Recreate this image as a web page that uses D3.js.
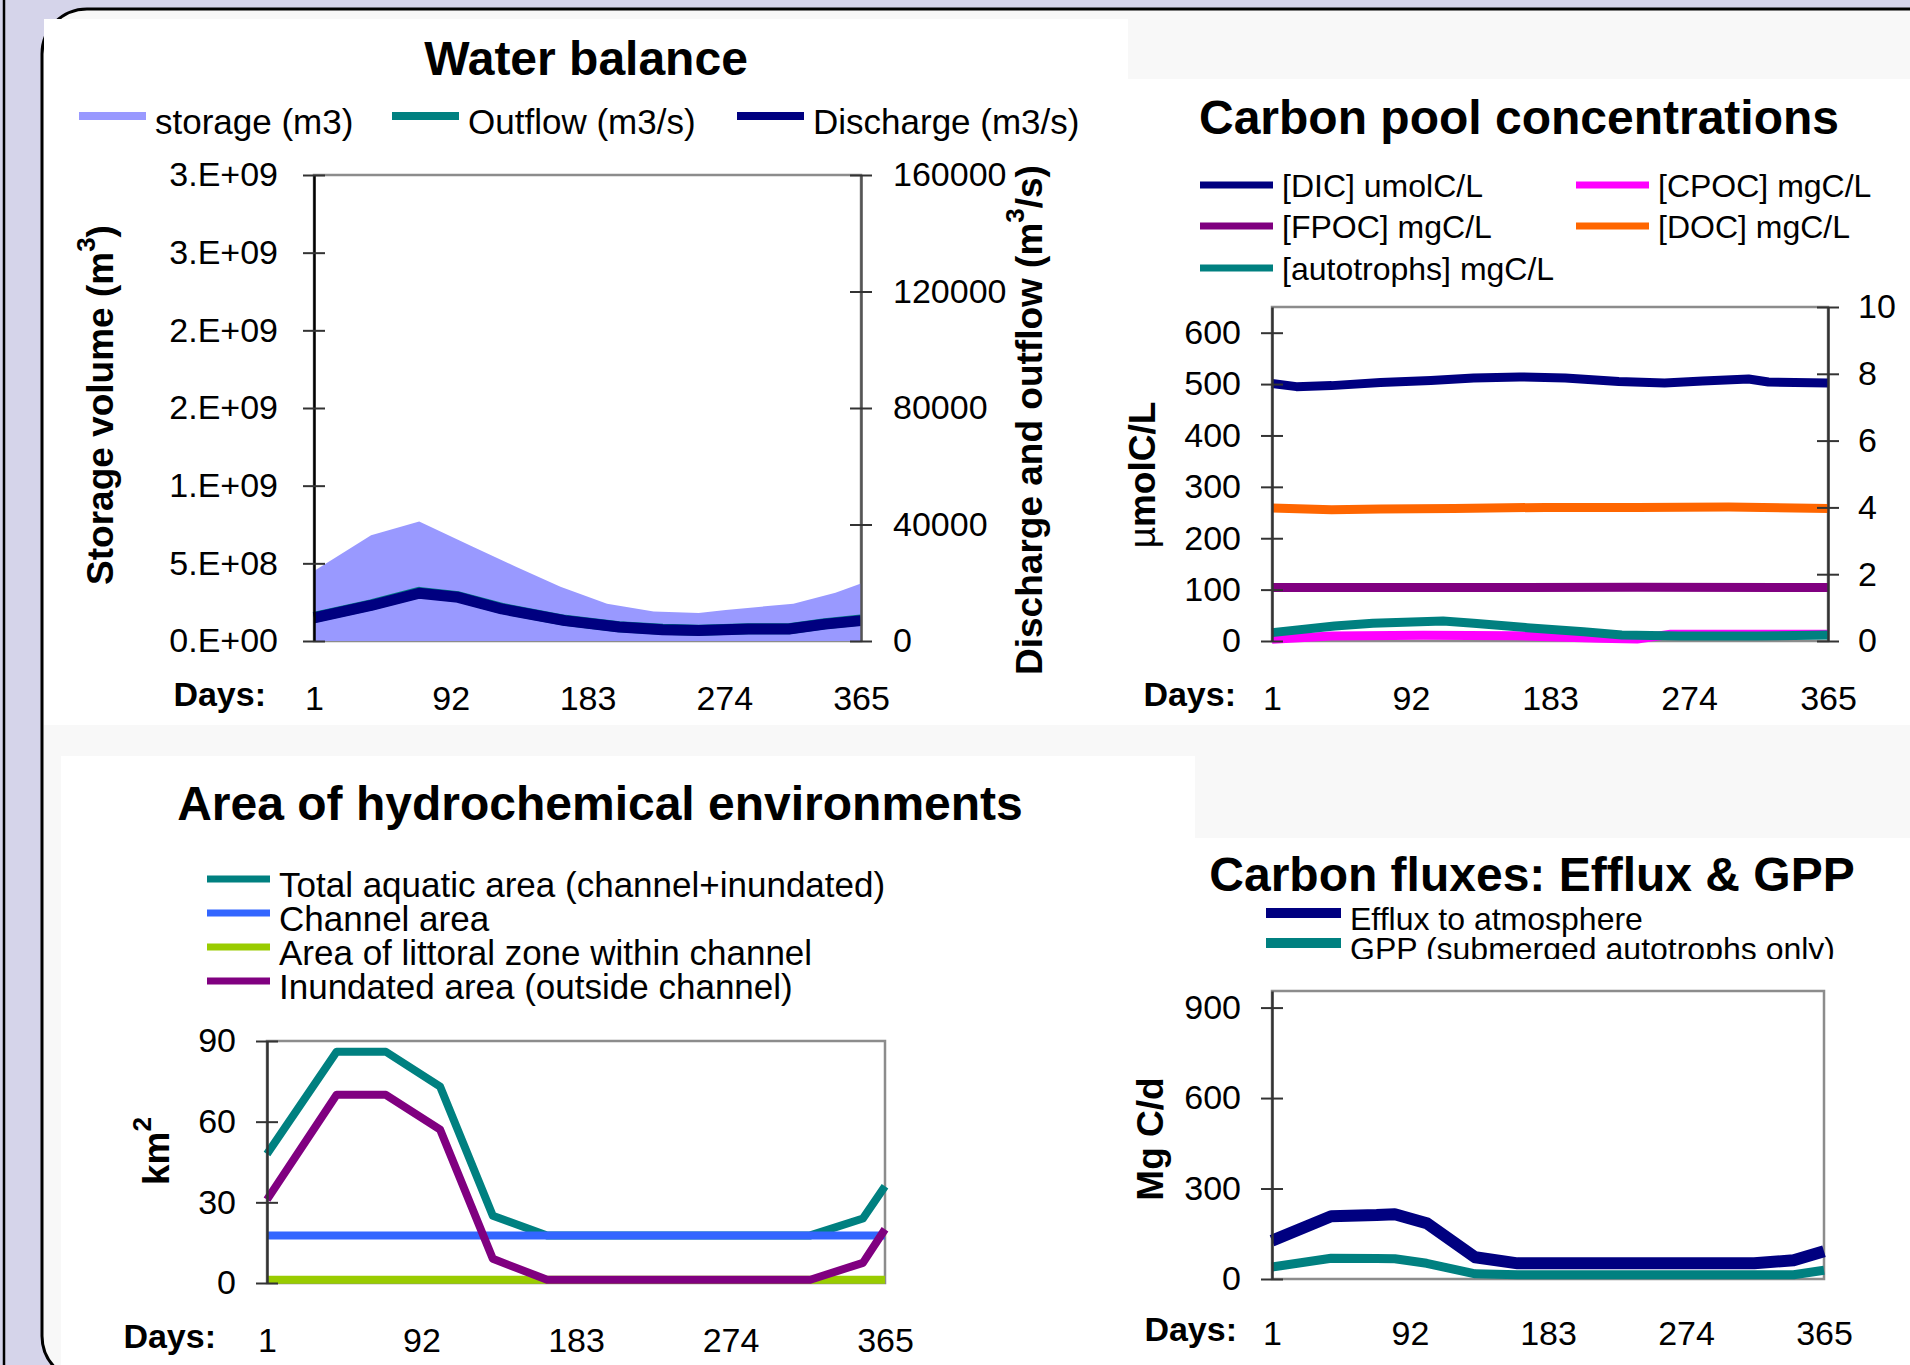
<!DOCTYPE html>
<html>
<head>
<meta charset="utf-8">
<script src="https://cdn.jsdelivr.net/npm/d3@7"></script>
<style>
body { margin: 0; background: #fff; }
svg { display: block; font-family: "Liberation Sans", Arial, sans-serif; }
</style>
</head>
<body>
<svg id="slide" width="1910" height="1365"></svg>
<script>
// ---------- data ----------
var dayTicks = [1, 92, 183, 274, 365];

// water balance
var storageDays   = [1, 39, 71, 106, 135, 165, 196, 227, 257, 275, 320, 348, 365];
var storageM3     = [0.45e9, 0.68e9, 0.77e9, 0.61e9, 0.48e9, 0.35e9, 0.24e9, 0.19e9, 0.18e9, 0.20e9, 0.24e9, 0.31e9, 0.37e9];
var flowDays      = [1, 39, 71, 97, 126, 168, 204, 233, 257, 290, 317, 341, 365];
var dischargeM3s  = [7900, 12200, 16400, 15000, 11000, 7000, 4800, 3900, 3600, 4100, 4100, 5800, 7000];
var outflowM3s    = [8100, 12400, 16700, 15200, 11200, 7100, 4900, 4000, 3700, 4200, 4200, 5900, 7200];
var storageTicks  = [0, 5e8, 1e9, 1.5e9, 2e9, 2.5e9, 3e9];
var storageLabels = ['0.E+00', '5.E+08', '1.E+09', '2.E+09', '2.E+09', '3.E+09', '3.E+09'];
var flowTicks     = [0, 40000, 80000, 120000, 160000];

// carbon pool concentrations
var dicDays   = [1, 17, 40, 72, 105, 133, 163, 193, 228, 258, 283, 313, 326, 365];
var dicUmol   = [501, 495, 497, 503, 507, 512, 514, 512, 505, 502, 506, 510, 504, 502];
var cpocDays  = [1, 40, 100, 160, 215, 240, 262, 365];
var cpocMg    = [0.05, 0.15, 0.17, 0.16, 0.08, 0.06, 0.2, 0.2];
var fpocDays  = [1, 120, 240, 365];
var fpocMg    = [1.6, 1.6, 1.61, 1.6];
var docDays   = [1, 40, 72, 120, 180, 240, 300, 365];
var docMg     = [3.98, 3.93, 3.95, 3.97, 4.0, 4.0, 4.01, 3.97];
var autoDays  = [1, 42, 67, 113, 133, 168, 205, 230, 268, 318, 365];
var autoMg    = [0.25, 0.45, 0.53, 0.6, 0.53, 0.4, 0.28, 0.18, 0.15, 0.15, 0.18];
var umolTicks = [0, 100, 200, 300, 400, 500, 600];
var mgTicks   = [0, 2, 4, 6, 8, 10];

// area of hydrochemical environments
var areaDays     = [1, 42, 71, 103, 134, 166, 321, 352, 365];
var totalKm2     = [48, 86, 86, 73, 25, 17.7, 17.7, 24, 36];
var channelKm2   = [17.7, 17.7, 17.7, 17.7, 17.7, 17.7, 17.7, 17.7, 17.7];
var littoralKm2  = [1.2, 1.2, 1.2, 1.2, 1.2, 1.2, 1.2, 1.2, 1.2];
var inundatedKm2 = [31, 70, 70, 57, 9, 1.2, 1.2, 7.5, 20];
var km2Ticks     = [0, 30, 60, 90];

// carbon fluxes
var fluxDays  = [1, 40, 70, 82, 103, 135, 163, 319, 345, 365];
var effluxMgC = [127, 208, 212, 215, 185, 72, 52, 52, 62, 92];
var gppMgC    = [40, 69, 68, 67, 52, 17, 14, 14, 14, 29];
var mgcTicks  = [0, 300, 600, 900];

var slide = d3.select('#slide');

// ---------- slide background ----------
slide.append('rect').attr('width', 1910).attr('height', 1365).attr('fill', '#d5d4ea');
slide.append('line')
    .attr('x1', 4).attr('x2', 4).attr('y1', 0).attr('y2', 1365)
    .attr('stroke', '#000').attr('stroke-width', 2.5);
slide.append('rect')
    .attr('x', 42).attr('y', 9).attr('width', 2000).attr('height', 1372).attr('rx', 45)
    .attr('fill', '#f8f8f8').attr('stroke', '#000').attr('stroke-width', 3);

// white boxes behind each chart
[[44, 19, 1084, 706], [1128, 79, 782, 646], [61, 756, 1134, 609], [1195, 838, 715, 527]]
    .forEach(function(p){
        slide.append('rect').attr('x', p[0]).attr('y', p[1]).attr('width', p[2]).attr('height', p[3]).attr('fill', '#fff');
    });

class ChartPanel {
    constructor(box){
        this.box = box;
        this.group = slide.append('g');
        this.x = d3.scaleLinear().domain([1, 365]).range([box.left, box.right]);
    }

    // chart title
    DrawTitle(text, cx, baseline){
        this.group.append('text')
            .attr('x', cx).attr('y', baseline)
            .attr('text-anchor', 'middle')
            .attr('font-size', 48).attr('font-weight', 'bold')
            .text(text);
    }

    // grey frame round the plot area
    DrawFrame(){
        var b = this.box;
        this.group.append('path')
            .attr('d', 'M' + b.left + ',' + b.bottom + 'V' + b.top + 'H' + b.right + 'V' + b.bottom + 'Z')
            .attr('fill', 'none').attr('stroke', '#8c8c8c').attr('stroke-width', 2.5);
    }

    // value axis, excel style ticks that cross the line
    DrawValueAxis(scale, values, labels, side, padding, color){
        var b = this.box;
        var axis = (side === 'left' ? d3.axisLeft(scale) : d3.axisRight(scale))
            .tickValues(values)
            .tickFormat(function(d, i){ return labels ? labels[i] : d; })
            .tickSizeInner(11).tickSizeOuter(0).tickPadding(padding);
        var g = this.group.append('g')
            .attr('transform', 'translate(' + (side === 'left' ? b.left : b.right) + ',0)')
            .call(axis)
            .attr('font-family', null).attr('font-size', 34);
        g.select('.domain').attr('stroke', color).attr('stroke-width', 2.5);
        g.selectAll('.tick line')
            .attr('x1', side === 'left' ? 11 : -11)
            .attr('stroke', '#333').attr('stroke-width', 2);
        g.selectAll('.tick text').attr('fill', '#000');
    }

    // day labels under the plot
    DrawDayAxis(baseline, daysRight){
        var b = this.box;
        var g = this.group.append('g')
            .attr('transform', 'translate(0,' + b.bottom + ')')
            .call(d3.axisBottom(this.x).tickValues(dayTicks).tickSize(0))
            .attr('font-family', null).attr('font-size', 34);
        g.select('.domain').remove();
        g.selectAll('.tick text').attr('y', baseline - b.bottom).attr('dy', null).attr('fill', '#000');
        this.group.append('text')
            .attr('x', daysRight).attr('y', baseline - 4)
            .attr('text-anchor', 'end')
            .attr('font-size', 34).attr('font-weight', 'bold')
            .text('Days:');
    }

    // rotated axis title, parts = [text, kind]
    DrawAxisTitle(cx, cy, parts){
        var t = this.group.append('text')
            .attr('transform', 'translate(' + cx + ',' + cy + ') rotate(-90)')
            .attr('text-anchor', 'middle').attr('dominant-baseline', 'central')
            .attr('font-size', 37).attr('font-weight', 'bold');
        var lift = 0;
        parts.forEach(function(p){
            var s = t.append('tspan').text(p[0]);
            if(p[1] === 'sup'){
                s.attr('font-size', 26).attr('dy', -14);
                lift = 14;
            }
            else if(lift){
                s.attr('dy', lift);
                lift = 0;
            }
            if(p[1] === 'light'){
                s.attr('font-weight', 'normal');
            }
        });
    }

    DrawLine(days, values, y, color, width){
        var x = this.x;
        var line = d3.line()
            .x(function(d, i){ return x(days[i]); })
            .y(function(d){ return y(d); });
        this.group.append('path').datum(values)
            .attr('d', line)
            .attr('fill', 'none').attr('stroke', color)
            .attr('stroke-width', width).attr('stroke-linejoin', 'round');
    }

    DrawArea(days, values, y, color){
        var x = this.x;
        var area = d3.area()
            .x(function(d, i){ return x(days[i]); })
            .y0(y(0))
            .y1(function(d){ return y(d); });
        this.group.append('path').datum(values).attr('d', area).attr('fill', color);
    }

    // legend entries: {label, color, x, y}
    DrawLegend(entries, swatchWidth, thickness, fontSize, textShift, clip){
        var g = this.group.append('g');
        if(clip){
            var id = 'clip' + Math.round(clip[1]);
            this.group.append('clipPath').attr('id', id)
                .append('rect').attr('x', clip[0]).attr('y', clip[1]).attr('width', clip[2]).attr('height', clip[3]);
            g.attr('clip-path', 'url(#' + id + ')');
        }
        var item = g.selectAll('g').data(entries).enter().append('g');
        item.append('line')
            .attr('x1', function(d){ return d.x; })
            .attr('x2', function(d){ return d.x + swatchWidth; })
            .attr('y1', function(d){ return d.y; })
            .attr('y2', function(d){ return d.y; })
            .attr('stroke', function(d){ return d.color; })
            .attr('stroke-width', thickness);
        item.append('text')
            .attr('x', function(d){ return d.x + swatchWidth + 9; })
            .attr('y', function(d){ return d.y + textShift; })
            .attr('font-size', fontSize)
            .text(function(d){ return d.label; });
    }
}

// ---------- water balance ----------
var water = new ChartPanel({left: 314, right: 861, top: 175, bottom: 641});
var yStorage = d3.scaleLinear().domain([0, 3e9]).range([water.box.bottom, water.box.top]);
var yFlow = d3.scaleLinear().domain([0, 160000]).range([water.box.bottom, water.box.top]);
water.DrawTitle('Water balance', 586, 75);
water.DrawLegend([
    {label: 'storage (m3)', color: '#9999ff', x: 79, y: 116},
    {label: 'Outflow (m3/s)', color: '#008080', x: 392, y: 116},
    {label: 'Discharge (m3/s)', color: '#000080', x: 737, y: 116}
], 67, 8, 35, 18);
water.DrawFrame();
water.DrawArea(storageDays, storageM3, yStorage, '#9999ff');
water.DrawLine(flowDays, outflowM3s, yFlow, '#008080', 11);
water.DrawLine(flowDays, dischargeM3s, yFlow, '#000080', 11);
water.DrawValueAxis(yStorage, storageTicks, storageLabels, 'left', 25, '#000');
water.DrawValueAxis(yFlow, flowTicks, null, 'right', 21, '#555');
water.DrawDayAxis(710, 266);
water.DrawAxisTitle(100, 405, [['Storage volume (m'], ['3', 'sup'], [')']]);
water.DrawAxisTitle(1029, 420, [['Discharge and outflow (m'], ['3', 'sup'], ['/s)']]);

// ---------- carbon pool concentrations ----------
var pools = new ChartPanel({left: 1272, right: 1828, top: 307, bottom: 641});
var yUmol = d3.scaleLinear().domain([0, 650]).range([pools.box.bottom, pools.box.top]);
var yMg = d3.scaleLinear().domain([0, 10]).range([pools.box.bottom, pools.box.top]);
pools.DrawTitle('Carbon pool concentrations', 1519, 134);
pools.DrawLegend([
    {label: '[DIC] umolC/L', color: '#000080', x: 1200, y: 185},
    {label: '[CPOC] mgC/L', color: '#ff00ff', x: 1576, y: 185},
    {label: '[FPOC] mgC/L', color: '#800080', x: 1200, y: 226},
    {label: '[DOC] mgC/L', color: '#ff6600', x: 1576, y: 226},
    {label: '[autotrophs] mgC/L', color: '#008080', x: 1200, y: 268}
], 73, 7, 32, 12);
pools.DrawFrame();
pools.DrawLine(dicDays, dicUmol, yUmol, '#000080', 9);
pools.DrawLine(cpocDays, cpocMg, yMg, '#ff00ff', 9);
pools.DrawLine(fpocDays, fpocMg, yMg, '#800080', 9);
pools.DrawLine(docDays, docMg, yMg, '#ff6600', 9);
pools.DrawLine(autoDays, autoMg, yMg, '#008080', 9);
pools.DrawValueAxis(yUmol, umolTicks, null, 'left', 20, '#333');
pools.DrawValueAxis(yMg, mgTicks, null, 'right', 19, '#333');
pools.DrawDayAxis(710, 1236);
pools.DrawAxisTitle(1142, 475, [['\u00b5', 'light'], ['molC/L']]);

// ---------- area of hydrochemical environments ----------
var areas = new ChartPanel({left: 267, right: 885, top: 1041, bottom: 1283});
var yKm2 = d3.scaleLinear().domain([0, 90]).range([areas.box.bottom, areas.box.top]);
areas.DrawTitle('Area of hydrochemical environments', 600, 820);
areas.DrawLegend([
    {label: 'Total aquatic area (channel+inundated)', color: '#008080', x: 207, y: 879},
    {label: 'Channel area', color: '#3366ff', x: 207, y: 913},
    {label: 'Area of littoral zone within channel', color: '#99cc00', x: 207, y: 947},
    {label: 'Inundated area (outside channel)', color: '#800080', x: 207, y: 981}
], 63, 7, 35, 18);
areas.DrawFrame();
areas.DrawLine(areaDays, totalKm2, yKm2, '#008080', 8);
areas.DrawLine(areaDays, channelKm2, yKm2, '#3366ff', 8);
areas.DrawLine(areaDays, littoralKm2, yKm2, '#99cc00', 8);
areas.DrawLine(areaDays, inundatedKm2, yKm2, '#800080', 8);
areas.DrawValueAxis(yKm2, km2Ticks, null, 'left', 20, '#333');
areas.DrawDayAxis(1352, 216);
areas.DrawAxisTitle(156, 1151, [['km'], ['2', 'sup'], ['']]);

// ---------- carbon fluxes ----------
var fluxes = new ChartPanel({left: 1272, right: 1824, top: 991, bottom: 1279});
var yMgC = d3.scaleLinear().domain([0, 955]).range([fluxes.box.bottom, fluxes.box.top]);
fluxes.DrawTitle('Carbon fluxes: Efflux & GPP', 1532, 891);
fluxes.DrawLegend([
    {label: 'Efflux to atmosphere', color: '#000080', x: 1266, y: 913},
    {label: 'GPP (submerged autotrophs only)', color: '#008080', x: 1266, y: 943}
], 75, 10, 32, 17, [1195, 895, 715, 64]);
fluxes.DrawFrame();
fluxes.DrawLine(fluxDays, effluxMgC, yMgC, '#000080', 12);
fluxes.DrawLine(fluxDays, gppMgC, yMgC, '#008080', 9);
fluxes.DrawValueAxis(yMgC, mgcTicks, null, 'left', 20, '#333');
fluxes.DrawDayAxis(1345, 1237);
fluxes.DrawAxisTitle(1150, 1139, [['Mg C/d']]);
</script>
</body>
</html>
